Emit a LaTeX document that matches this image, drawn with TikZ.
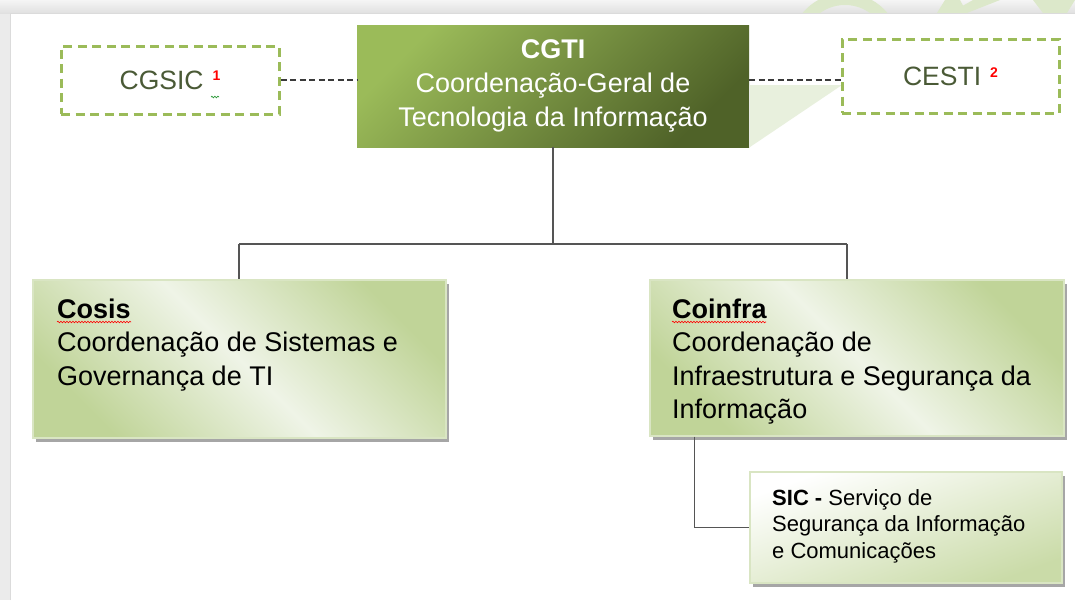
\documentclass[tikz,border=0pt]{standalone}
\usepackage{fontspec}
\setmainfont{Liberation Sans}
\usetikzlibrary{shadows,calc,decorations.pathmorphing}
\definecolor{olivelight}{HTML}{9BBB59}
\definecolor{olivedark}{HTML}{4F6228}
\definecolor{boxgreen}{HTML}{C0D498}
\definecolor{boxlight}{HTML}{EFF4E7}
\definecolor{boxedge}{HTML}{D9E5C3}
\definecolor{sicgreen}{HTML}{CADBA8}
\definecolor{txtolive}{HTML}{4A5A36}
\definecolor{wmark}{HTML}{DCE8CA}
\definecolor{wmarkb}{HTML}{E8F0DD}
\definecolor{linegrey}{HTML}{555555}
\definecolor{dashgrey}{HTML}{3A3A3A}
\definecolor{spellgreen}{HTML}{2E9A3A}
\begin{document}
\begin{tikzpicture}[x=1pt,y=-1pt,
  dashbox/.style={draw=olivelight, line width=3pt, dash pattern=on 9pt off 5.5pt, inner sep=0pt},
  topbox/.style={top color=olivelight, bottom color=olivedark, shading angle=45, inner sep=0pt,
     text=white, align=center, font=\fontsize{27}{34}\selectfont},
  greenbox/.style={draw=boxedge, line width=1.2pt, top color=boxgreen, bottom color=boxgreen,
     middle color=boxlight, shading angle=-45, inner sep=0pt,
     drop shadow={shadow xshift=3pt, shadow yshift=-4pt, fill=black!35, opacity=1}},
  sicbox/.style={draw=boxedge, line width=1.2pt, top color=white, bottom color=sicgreen,
     shading angle=20, inner sep=0pt,
     drop shadow={shadow xshift=3pt, shadow yshift=-4pt, fill=black!35, opacity=1}},
  boxtext/.style={anchor=base west, inner sep=0pt, font=\fontsize{27}{33.5}\selectfont},
  sictext/.style={anchor=base west, inner sep=0pt, font=\fontsize{22}{26.5}\selectfont},
  conn/.style={draw=linegrey, line width=1.5pt},
  dashconn/.style={draw=dashgrey, line width=2.5pt, dash pattern=on 6pt off 3.5pt},
  spell/.style={draw=red, line width=0.6pt, decorate, decoration={snake, amplitude=0.8pt, segment length=3pt}},
]
\useasboundingbox (0,0) rectangle (1075,600);
% background
\fill[black!8] (0,0) rectangle (1075,600);
\shade[top color=black!4, bottom color=black!12] (0,0) rectangle (1075,13);
\begin{scope}
  \clip (0,0) rectangle (1075,13);
  \fill[wmark, even odd rule] (845,48) circle[radius=55] (845,48) circle[radius=43];
  \fill[wmark] (945,0) -- (960,0) -- (967,13) -- (937,13) -- cycle;
  \fill[wmark] (973,0) -- (1000,0) -- (967,13) -- (950,13) -- cycle;
  \fill[wmark] (1033,0) -- (1075,0) -- (1067,13) -- (1043,13) -- cycle;
\end{scope}
\fill[white] (10,13) rectangle (1075,600);
\draw[black!14, line width=1pt] (10,600) -- (10,13) -- (1075,13);
\fill[wmarkb] (750,85) -- (842,85) -- (750,147) -- cycle;

% top row
\node[topbox, minimum width=392pt, minimum height=122pt] (cgti) at (553,86)
  {\textbf{CGTI}\\Coordenação-Geral de\\Tecnologia da Informação};
\node[dashbox, minimum width=218pt, minimum height=68pt, font=\fontsize{26.5}{30}\selectfont] (cgsic) at (170,80)
  {\textcolor{txtolive}{CGSIC}\hspace{9pt}\raisebox{9pt}{\fontsize{14}{14}\selectfont\bfseries\color{red}1}};
\node[dashbox, minimum width=217pt, minimum height=74pt, font=\fontsize{26.5}{30}\selectfont] (cesti) at (950.5,76)
  {\textcolor{txtolive}{CESTI}\hspace{9pt}\raisebox{8pt}{\fontsize{14}{14}\selectfont\bfseries\color{red}2}\hspace{12pt}};
\draw[spellgreen, line width=0.7pt, decorate, decoration={snake, amplitude=0.8pt, segment length=3pt}]
  (211,97) -- (219,97);

\draw[dashconn] (cgsic.east) -- (cgsic.east -| cgti.west);
\draw[dashconn] (cgti.east |- cgsic.east) -- (cesti.west |- cgsic.east);

% second row
\node[greenbox, minimum width=413pt, minimum height=158pt] (cosis) at (239.5,359) {};
\node[boxtext] (cosisT) at (57,318)
  {\parbox[t]{385pt}{\raggedright\textbf{Cosis}\\Coordenação de Sistemas e\\Governança de TI}};
\draw[spell] ([yshift=-4pt]cosisT.base west) -- ++(74,0);

\node[greenbox, minimum width=414pt, minimum height=156pt] (coinfra) at (857,358) {};
\node[boxtext] (coinfraT) at (672,318)
  {\parbox[t]{385pt}{\raggedright\textbf{Coinfra}\\Coordenação de\\Infraestrutura e Segurança da\\Informação}};
\draw[spell] ([yshift=-4pt]coinfraT.base west) -- ++(94,0);

\node[sicbox, minimum width=312pt, minimum height=111pt] (sic) at (906,527.5) {};
\node[sictext] (sicT) at (772,505)
  {\parbox[t]{285pt}{\raggedright\textbf{SIC -} Serviço de\\Segurança da Informação\\e Comunicações}};

% tree connectors
\coordinate (busL) at (239,244);
\coordinate (busR) at (847,244);
\draw[conn] (cgti.south) -- (cgti.south |- busL);
\draw[conn] (busL) -- (busR);
\draw[conn] (busL) -- (busL |- cosis.north);
\draw[conn] (busR) -- (busR |- coinfra.north);
\draw[conn] ([xshift=45pt]coinfra.south west) |- (sic.west);
\end{tikzpicture}
\end{document}
